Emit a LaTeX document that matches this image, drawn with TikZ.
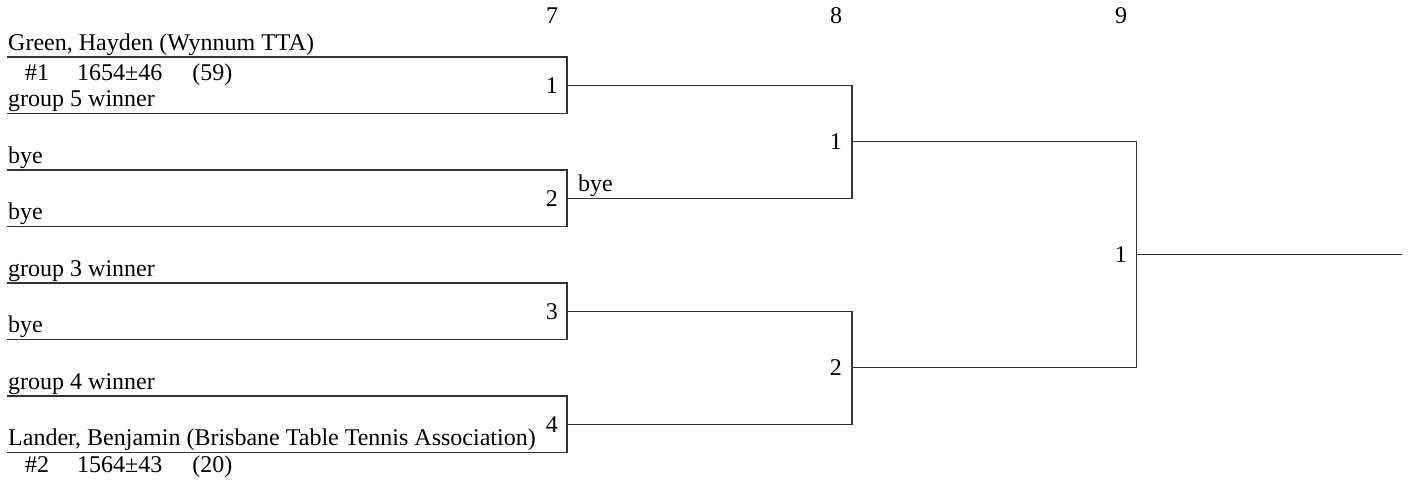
\documentclass[tikz,border=0pt]{standalone}
\usepackage{fontspec}
\setmainfont{Liberation Serif}
\usetikzlibrary{positioning}

\tikzset{
  bline/.style={line width=1.2pt, black!80},
  player/.style={anchor=base west, inner sep=0pt},
  matchno/.style={anchor=east, inner sep=0pt},
  roundno/.style={anchor=base, inner sep=0pt}
}

\begin{document}
\begin{tikzpicture}[x=1pt, y=-1pt, font=\fontsize{24}{28}\selectfont]
  \useasboundingbox (0,0) rectangle (1412,483);

  % Round headers
  \node[roundno] (r7) at (552,23) {7};
  \node[roundno] (r8) at (836,23) {8};
  \node[roundno] (r9) at (1121,23) {9};

  % Round 7 boxes (open on the left)
  \draw[bline] (7,57) -| (567,113.5) -- (7,113.5);
  \draw[bline] (7,170) -| (567,226.5) -- (7,226.5);
  \draw[bline] (7,283) -| (567,339.5) -- (7,339.5);
  \draw[bline] (7,396) -| (567,452.5) -- (7,452.5);
  \coordinate (b1) at (567,85.25);
  \coordinate (b2) at (567,198.25);
  \coordinate (b3) at (567,311.25);
  \coordinate (b4) at (567,424.25);
  \node[matchno] (m71) at (558,85.25) {1};
  \node[matchno] (m72) at (558,198.25) {2};
  \node[matchno] (m73) at (558,311.25) {3};
  \node[matchno] (m74) at (558,424.25) {4};

  % Players
  \node[player] (p1) at (8,50.5) {Green, Hayden (Wynnum TTA)};
  \node[player] (s1) at (25,80) {\#1\hspace{28pt}1654±46\hspace{30pt}(59)};
  \node[player] (p2) at (8,106) {group 5 winner};
  \node[player] (p3) at (8,163) {bye};
  \node[player] (p4) at (8,219) {bye};
  \node[player] (p5) at (8,276) {group 3 winner};
  \node[player] (p6) at (8,332) {bye};
  \node[player] (p7) at (8,389) {group 4 winner};
  \node[player] (p8) at (8,445) {Lander, Benjamin (Brisbane Table Tennis Association)};
  \node[player] (s8) at (25,472) {\#2\hspace{28pt}1564±43\hspace{30pt}(20)};

  % Round 8
  \coordinate (j81) at (852,141.75);
  \coordinate (j82) at (852,367.75);
  \draw[bline] (b1) -| (j81) |- (b2);
  \draw[bline] (b3) -| (j82) |- (b4);
  \node[player] (bye2) at (578,191.5) {bye};
  \node[matchno] (m81) at (842,141.75) {1};
  \node[matchno] (m82) at (842,367.75) {2};

  % Round 9
  \coordinate (j91) at (1136.5,254.75);
  \coordinate (fin) at (1402,254.75);
  \draw[bline] (j81) -| (j91) |- (j82);
  \draw[bline] (j91) -- (fin);
  \node[matchno] (m91) at (1127,254.75) {1};
\end{tikzpicture}
\end{document}
